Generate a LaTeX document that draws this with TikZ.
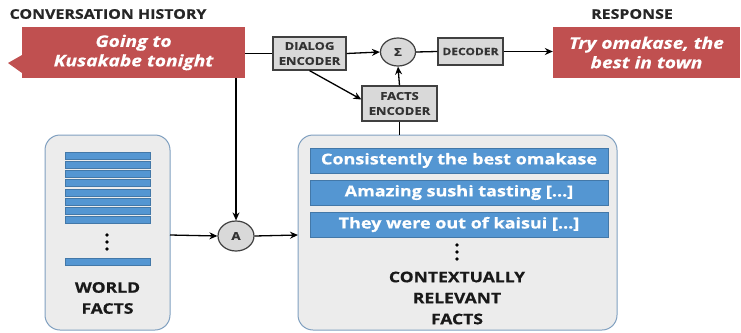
\documentclass[tikz,border=0pt]{standalone}
\usepackage{fontspec}
\setmainfont{Open Sans}[FakeStretch=1.2, BoldFeatures={FakeBold=0.6}, BoldItalicFeatures={FakeBold=0.6}]
\usepackage{tikz}
\usetikzlibrary{arrows.meta,shapes.geometric}

\definecolor{histred}{RGB}{192,80,80}
\definecolor{barblue}{RGB}{84,150,210}
\definecolor{encgray}{RGB}{217,217,217}
\definecolor{panelgray}{RGB}{236,236,236}
\definecolor{panelline}{RGB}{128,160,192}

\tikzset{
  redbox/.style={fill=histred, text=white, align=center, inner sep=0pt,
    font=\fontsize{16}{19.5}\selectfont\bfseries\itshape},
  encbox/.style={draw=black!75, fill=encgray, line width=1.2pt, align=center,
    inner sep=0pt, font=\fontsize{10.8}{15}\selectfont\bfseries, text=black!80},
  opnode/.style={ellipse, draw=black!75, fill=encgray, line width=1.2pt,
    inner sep=0pt, font=\fontsize{11}{12}\selectfont\bfseries, text=black!80},
  panel/.style={draw=panelline, fill=panelgray, rounded corners=15pt, line width=1pt},
  factbar/.style={fill=barblue, draw=barblue!80!black, line width=0.4pt, text=white,
    inner sep=0pt, font=\fontsize{15}{17}\selectfont\bfseries},
  title/.style={font=\fontsize{13.3}{15}\selectfont\bfseries, text=black!85},
  biglabel/.style={align=center, font=\fontsize{14.6}{21}\selectfont\bfseries, text=black!90},
  link/.style={line width=1.3pt},
  flow/.style={line width=1.3pt, -{Stealth[length=8pt,width=7pt]}}
}

\begin{document}
\begin{tikzpicture}[x=1pt, y=-1pt]
\useasboundingbox (0,0) rectangle (741,332);

% top row
\node[title] (histtitle) at (108,14) {CONVERSATION HISTORY};
\node[redbox, minimum width=223pt, minimum height=51pt] (hist) at (133.5,52.5)
  {Going to\\Kusakabe tonight};
\fill[histred] (22,73) -- (8,63) -- (22,55) -- cycle;
\node[encbox, minimum width=73pt, minimum height=33pt] (dialog) at (309.5,53.5)
  {DIALOG\\ENCODER};
\node[opnode, minimum width=35pt, minimum height=28pt] (sum) at (398,52) {Σ};
\node[encbox, minimum width=75pt, minimum height=35pt] (facts) at (399.5,103.5)
  {FACTS\\ENCODER};
\node[encbox, minimum width=65pt, minimum height=27pt, font=\fontsize{10}{12}\selectfont\bfseries] (decoder) at (470.5,51.5)
  {DECODER};
\node[title] (resptitle) at (632,14) {RESPONSE};
\node[redbox, minimum width=187pt, minimum height=51pt] (resp) at (646.5,52.5)
  {Try omakase, the\\best in town};

% world facts
\draw[panel] (45,135) rectangle (170,330);
\coordinate (world) at (170,235);
\foreach \i in {0,...,7}
  \fill[barblue, draw=barblue!80!black, line width=0.4pt] (65,152+9.2*\i) rectangle (150,159+9.2*\i);
\foreach \y in {235,242,249}
  \fill (107,\y) circle (1.9pt);
\fill[barblue, draw=barblue!80!black, line width=0.4pt] (65,258) rectangle (150,265);
\node[biglabel] (worldlabel) at (107.5,298) {WORLD\\FACTS};

\node[opnode, minimum width=36pt, minimum height=30pt] (attn) at (236,236) {A};

% contextually relevant facts
\draw[panel] (298,135) rectangle (617,330);
\coordinate (cr) at (298,235);
\coordinate (crtop) at (399.5,135);
\node[factbar, minimum width=298pt, minimum height=25pt] (fact1) at (459,160.5) {Consistently the best omakase};
\node[factbar, minimum width=298pt, minimum height=25pt] (fact2) at (459,192.5) {Amazing sushi tasting [...]};
\node[factbar, minimum width=298pt, minimum height=25pt] (fact3) at (459,224.5) {They were out of kaisui [...]};
\foreach \y in {245,252,259}
  \fill (457,\y) circle (1.9pt);
\node[biglabel] (crlabel) at (457,298)
  {CONTEXTUALLY\\RELEVANT\\FACTS};

% connectors
\draw[link] (hist.east |- dialog.west) -- (dialog.west);
\draw[flow] (dialog.east) -- (sum.west);
\draw[flow] (dialog.south) -- ([yshift=4pt]facts.west);
\draw[flow] (facts.north) -- (sum.south);
\draw[link] (facts.south) -- (crtop);
\draw[link] (sum.east) -- (decoder.west);
\draw[flow] (decoder.east) -- (resp.west |- decoder.east);
\draw[flow] (attn.north |- hist.south) -- (attn.north);
\draw[flow] (world) -- (attn.west);
\draw[flow] (attn.east) -- (cr);

\end{tikzpicture}
\end{document}
